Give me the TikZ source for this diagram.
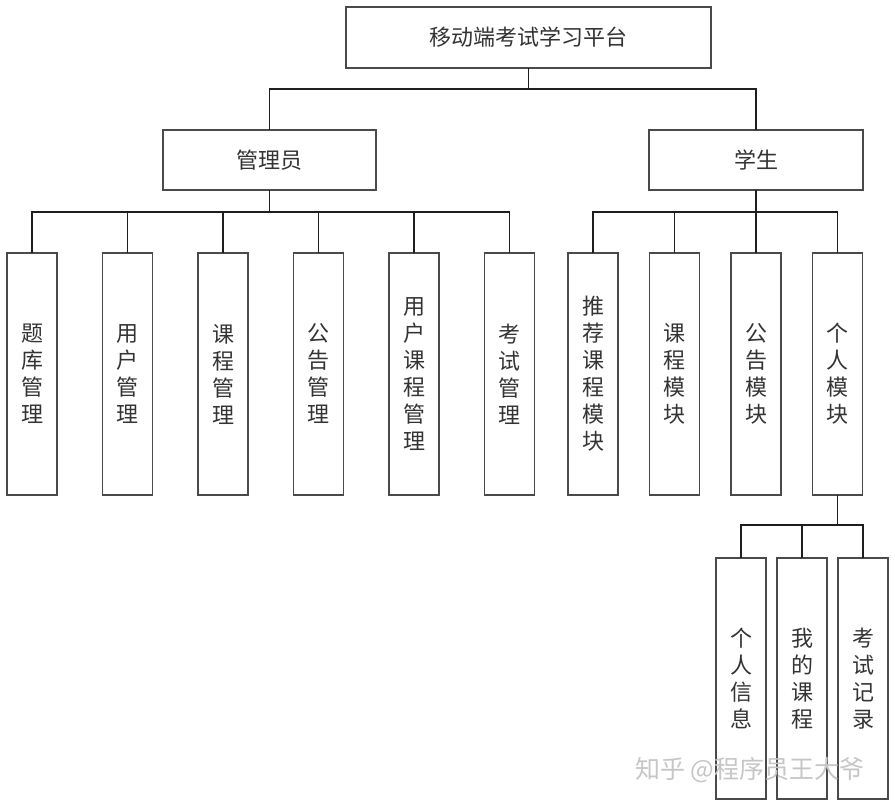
\documentclass[tikz,border=0pt]{standalone}
\usepackage{fontspec}
\setmainfont{Noto Sans CJK SC}
\usepackage{xcolor}
\usetikzlibrary{positioning}
\definecolor{boxLine}{HTML}{4A4A4A}
\definecolor{busLine}{HTML}{1E1E1E}
\definecolor{inkText}{HTML}{333333}

\begin{document}
\begin{tikzpicture}[x=1pt,y=-1pt,
  hbox/.style={draw=boxLine,line width=1.1pt,text=inkText,inner sep=0pt,outer sep=0pt,
    font=\fontsize{22}{27}\selectfont},
  vbox/.style={hbox,minimum width=50pt,text width=22pt,align=center},
  bus/.style={draw=busLine,line width=1.9pt}
]
\useasboundingbox (0,0) rectangle (895,806);
% top levels
\node[hbox,minimum width=365pt,minimum height=61pt] (root) at (528.5,37.5) {移动端考试学习平台};
\node[hbox,minimum width=213pt,minimum height=60pt] (adm) at (269.5,160) {管理员};
\node[hbox,minimum width=214pt,minimum height=60pt] (stu) at (756,160) {学生};
% admin modules
\begin{scope}[node distance=45.5pt,vbox/.append style={minimum height=242pt}]
\node[vbox] (a1) at (32,374) {题\\库\\管\\理};
\node[vbox,right=of a1] (a2) {用\\户\\管\\理};
\node[vbox,right=of a2] (a3) {课\\程\\管\\理};
\node[vbox,right=of a3] (a4) {公\\告\\管\\理};
\node[vbox,right=of a4] (a5) {用\\户\\课\\程\\管\\理};
\node[vbox,right=of a5] (a6) {考\\试\\管\\理};
\end{scope}
% student modules
\begin{scope}[node distance=31.5pt,vbox/.append style={minimum height=242pt}]
\node[vbox] (s1) at (593,374) {推\\荐\\课\\程\\模\\块};
\node[vbox,right=of s1] (s2) {课\\程\\模\\块};
\node[vbox,right=of s2] (s3) {公\\告\\模\\块};
\node[vbox,right=of s3] (s4) {个\\人\\模\\块};
\end{scope}
% personal sub-modules
\begin{scope}[node distance=11pt,vbox/.append style={minimum height=241pt}]
\node[vbox] (p1) at (741,678.5) {个\\人\\信\\息};
\node[vbox,right=of p1] (p2) {我\\的\\课\\程};
\node[vbox,right=of p2] (p3) {考\\试\\记\\录};
\end{scope}
% connectors
\foreach \c in {adm,stu} \draw[bus] (root.south) -- ++(0,21) -| (\c.north);
\foreach \c in {a1,a2,a3,a4,a5,a6} \draw[bus] (adm.south) -- ++(0,22) -| (\c.north);
\foreach \c in {s1,s2,s3,s4} \draw[bus] (stu.south) -- ++(0,22) -| (\c.north);
\foreach \c in {p1,p2,p3} \draw[bus] (s4.south) -- ++(0,30) -| (\c.north);
% watermark
\node[text=gray!45,font=\fontsize{25}{27}\selectfont] (mark) at (750,770) {知乎 @程序员王大爷};
\end{tikzpicture}
\end{document}
